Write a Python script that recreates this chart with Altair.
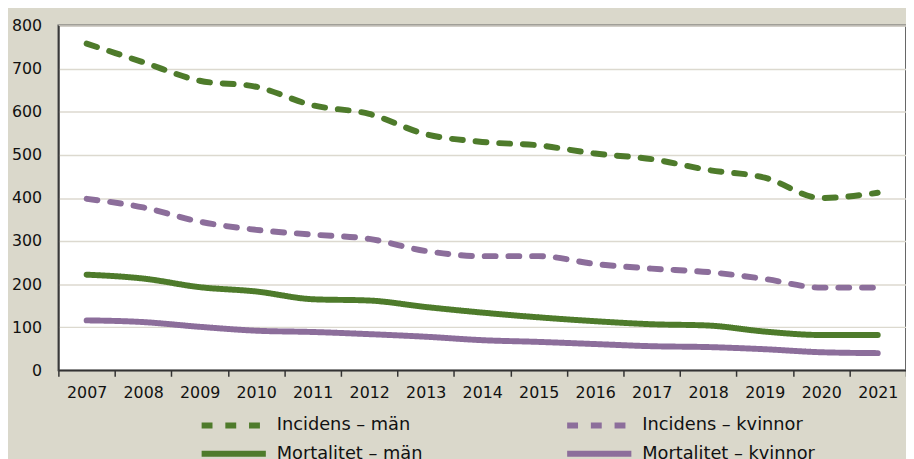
import altair as alt
import pandas as pd

years = [str(y) for y in range(2007, 2022)]
incidens_man = [758, 715, 672, 658, 615, 595, 548, 530, 522, 503, 490, 465, 447, 400, 412]
incidens_kvinnor = [398, 378, 345, 326, 315, 305, 277, 265, 265, 247, 236, 228, 212, 192, 192]
mortalitet_man = [222, 213, 193, 183, 165, 162, 147, 134, 123, 114, 107, 104, 90, 82, 82]
mortalitet_kvinnor = [116, 112, 101, 92, 89, 84, 78, 70, 66, 61, 56, 54, 49, 42, 40]

# legend order (laid out column by column): column 1 = men, column 2 = women
series_names = ["Incidens – män", "Mortalitet – män", "Incidens – kvinnor", "Mortalitet – kvinnor"]
series_vals = [incidens_man, mortalitet_man, incidens_kvinnor, mortalitet_kvinnor]
colors = ["#4e7b2b", "#4e7b2b", "#8c6e9b", "#8c6e9b"]
dashes = [[11, 13], [1, 0], [11, 13], [1, 0]]

rows = []
for name, vals in zip(series_names, series_vals):
    for y, v in zip(years, vals):
        rows.append({"year": y, "value": v, "serie": name})
df = pd.DataFrame(rows)

FONT = "DejaVu Sans"

# wide, flat legend symbol: path spans -4r..4r where r = sqrt(size)/2
legend_kw = dict(title=None, orient="none", legendX=166, legendY=393,
                 columns=2, columnPadding=134, rowPadding=4,
                 symbolType="M-4,0H4", symbolSize=264, symbolStrokeWidth=6,
                 labelFont=FONT, labelFontSize=18, labelColor="#111111",
                 labelOffset=32, padding=0, labelLimit=400)

chart = alt.Chart(df).mark_line(
    strokeWidth=6, strokeCap="round", interpolate="monotone"
).encode(
    x=alt.X("year:O", scale=alt.Scale(type="band", paddingInner=0, paddingOuter=0),
            axis=alt.Axis(title=None, labelAngle=0, tickBand="extent", ticks=True,
                          tickSize=6, tickColor="#333333", tickWidth=1.5,
                          domainColor="#333333", domainWidth=1.5,
                          labelFont=FONT, labelFontSize=16, labelColor="#111111",
                          labelPadding=9, grid=False)),
    y=alt.Y("value:Q", scale=alt.Scale(domain=[0, 800], nice=False),
            axis=alt.Axis(title=None, values=[0, 100, 200, 300, 400, 500, 600, 700, 800],
                          ticks=False, labelPadding=17, domainColor="#333333", domainWidth=1.5,
                          gridColor="#dcd9cf", gridWidth=1.5,
                          labelFont=FONT, labelFontSize=16, labelColor="#111111")),
    color=alt.Color("serie:N", scale=alt.Scale(domain=series_names, range=colors),
                    legend=alt.Legend(**legend_kw)),
    strokeDash=alt.StrokeDash("serie:N", scale=alt.Scale(domain=series_names, range=dashes),
                              legend=alt.Legend(**legend_kw)),
).properties(
    width=858, height=349,
    background="#dad8cb",
    padding={"left": 51, "top": 15, "right": 0, "bottom": 90},
    autosize=alt.AutoSizeParams(type="none"),
).configure_view(
    fill="white", stroke="#666666", strokeWidth=2
)

chart.save("out.html", embed_options={"renderer": "svg", "actions": False})
